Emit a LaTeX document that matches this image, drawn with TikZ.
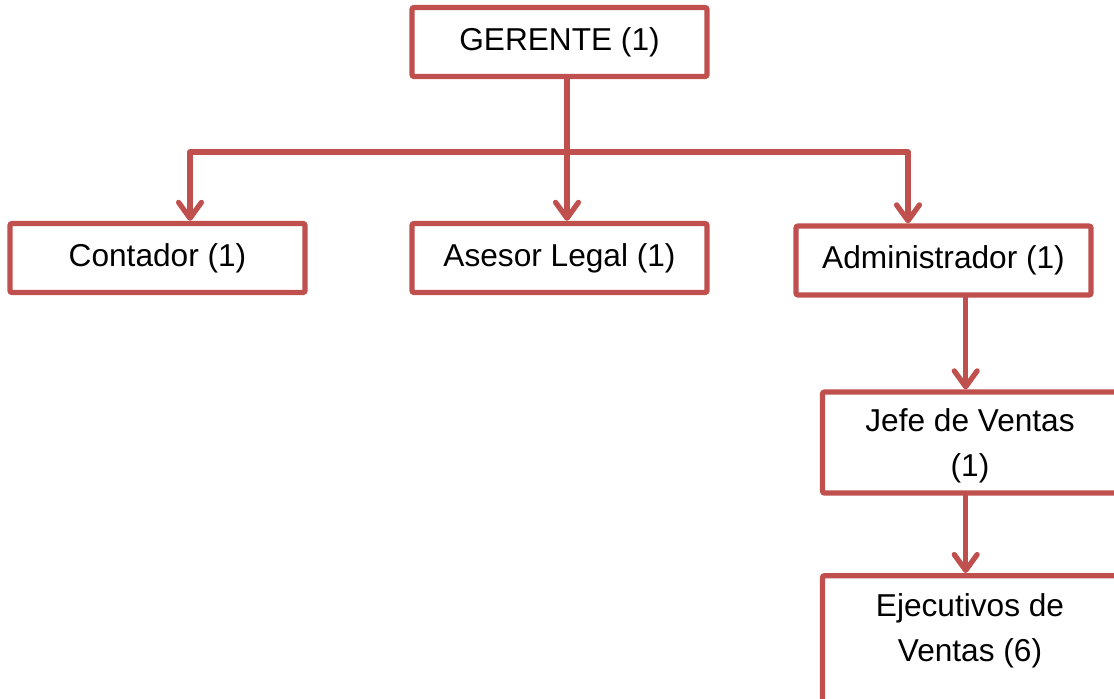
\documentclass[tikz,border=0pt]{standalone}
\usepackage{fontspec}
\setmainfont{Liberation Sans}
\usetikzlibrary{arrows.meta}
\definecolor{rojo}{HTML}{C0504D}
\tikzset{
	caja/.style={draw=rojo, line width=1.5pt, fill=white, rounded corners=0.6pt, minimum width=2.95cm, minimum height=0.69cm, align=center, font=\fontsize{9}{12.8}\selectfont},
	linea/.style={draw=rojo, line width=1.5pt, line cap=round},
	flecha/.style={linea, -{Straight Barb[length=4.5pt,width=6.5pt,round]}},
}
\begin{document}
\begin{tikzpicture}
		\useasboundingbox (0,0) rectangle (11.14,-6.98);
		\clip (0,0) rectangle (11.14,-6.98);
		%cajas
		\node[caja] (ger) at (5.595, -0.42) {GERENTE (1)};
		\node[caja] (cont) at (1.575, -2.58) {Contador (1)};
		\node[caja] (ases) at (5.595, -2.58) {Asesor Legal (1)};
		\node[caja] (admin) at (9.435, -2.605) {Administrador (1)};
		\node[caja, minimum height=1.01cm, text depth=-0.05cm] (jefe) at (9.70, -4.425) {Jefe de Ventas\\(1)};
		\node[caja, anchor=north, inner ysep=0.18cm, text depth=1.2cm] (ejec) at (9.70, -5.73) {Ejecutivos de\\Ventas (6)};
		%barra
		\coordinate (bar) at (5.67, -1.52);
		\coordinate (b1) at (1.90, -1.52);
		\coordinate (b2) at (5.67, -1.52);
		\coordinate (b3) at (9.08, -1.52);
		\draw[linea] (ger.south -| bar) -- (bar);
		\draw[linea] (b1) -- (b3);
		\foreach \i/\n in {1/cont, 2/ases, 3/admin}
			\draw[flecha] (b\i) -- (b\i |- \n.north);
		%ventas
		\coordinate (v) at (9.657, 0);
		\draw[flecha] (admin.south -| v) -- (jefe.north -| v);
		\draw[flecha] (jefe.south -| v) -- (ejec.north -| v);
\end{tikzpicture}
\end{document}
